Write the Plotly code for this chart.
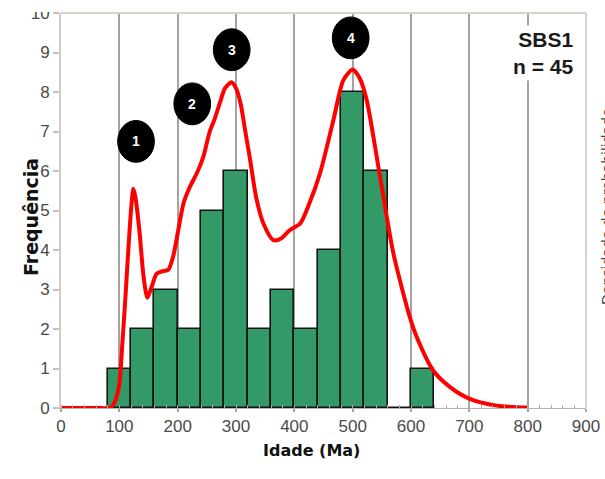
import plotly.graph_objects as go

# ---------------- data ----------------
bin_left = [80, 120, 160, 200, 240, 280, 320, 360, 400, 440, 480, 520, 560, 600]
bin_width = 40
counts = [1, 2, 3, 2, 5, 6, 2, 3, 2, 4, 8, 6, 0, 1]

curve_x = [0, 60, 85, 92, 100, 105, 110, 115, 120, 124, 128, 135, 141, 148, 155, 164,
           173, 184, 192, 201, 210, 221, 233, 244, 255, 263, 272, 281, 292, 300, 308,
           316, 324, 335, 347, 364, 378, 392, 410, 425, 444, 467, 484, 500, 512, 524,
           547, 570, 598, 610, 638, 667, 701, 747, 800]
curve_y = [0, 0, 0.01, 0.15, 0.6, 1.6, 2.7, 3.9, 5.0, 5.55, 5.3, 4.4, 3.4, 2.79, 3.05, 3.4,
           3.46, 3.5, 3.82, 4.5, 5.18, 5.6, 5.95, 6.36, 7.0, 7.3, 7.71, 8.09, 8.25, 8.1, 7.7,
           7.0, 6.3, 5.3, 4.67, 4.25, 4.3, 4.5, 4.67, 5.15, 5.94, 7.29, 8.3, 8.57, 8.35, 7.8,
           5.85, 3.9, 2.3, 1.79, 0.95, 0.53, 0.23, 0.06, 0.01]

peak_labels = ["1", "2", "3", "4"]
peak_x = [128.6, 225, 292.6, 496.6]
peak_y = [6.75, 7.7, 9.07, 9.37]

x_ticks = [0, 100, 200, 300, 400, 500, 600, 700, 800, 900]
y_ticks = list(range(0, 11))

sample_name = "SBS1"
n_text = "n = 45"

# ---------------- figure ----------------
W, H = 605, 479
L, R, T, B = 61, 19, 13, 71
PW, PH = W - L - R, H - T - B

bar_x = [b + bin_width / 2 for b in bin_left]

fig = go.Figure()
fig.add_trace(go.Bar(
    x=bar_x, y=counts, width=bin_width,
    marker=dict(color="#339966", line=dict(color="#141414", width=1.6)),
    showlegend=False, hoverinfo="skip",
))
fig.add_trace(go.Scatter(
    x=curve_x, y=curve_y, mode="lines",
    line=dict(color="#ff0000", width=4, shape="spline", smoothing=0.7),
    showlegend=False, hoverinfo="skip",
))

shapes = []
# top and right frame
shapes.append(dict(type="line", xref="paper", yref="paper", x0=0, x1=1, y0=1, y1=1,
                   line=dict(color="#d6d3cb", width=2), layer="above"))
shapes.append(dict(type="line", xref="paper", yref="paper", x0=1, x1=1, y0=0, y1=1,
                   line=dict(color="#d6d3cb", width=2), layer="above"))
# white strip hiding the top of the "10" label (cropped in original)
shapes.append(dict(type="rect", xref="paper", yref="paper", x0=-0.12, x1=-0.006,
                   y0=1 + 1 / PH, y1=1 + 20 / PH, fillcolor="white", line=dict(width=0), layer="above"))
# peak markers
rx, ry = 31.5, 0.53
for cx, cy in zip(peak_x, peak_y):
    shapes.append(dict(type="circle", xref="x", yref="y", x0=cx - rx, x1=cx + rx,
                       y0=cy - ry, y1=cy + ry, fillcolor="black",
                       line=dict(color="black", width=1), layer="above"))

annotations = []
for lab, cx, cy in zip(peak_labels, peak_x, peak_y):
    annotations.append(dict(x=cx, y=cy, xref="x", yref="y", text=f"<b>{lab}</b>",
                            showarrow=False, font=dict(family="Liberation Sans, Arial", size=14, color="white")))
annotations.append(dict(x=883, y=9.0, xref="x", yref="y", xanchor="right", yanchor="middle",
                        text=f"<b>{sample_name}</b><br><b>{n_text}</b>", align="right",
                        showarrow=False, bgcolor="white", borderpad=2,
                        font=dict(family="Liberation Sans, Arial", size=21, color="#1a1a1a")))
annotations.append(dict(x=(311 - L) / PW, y=(H - B - 462) / PH, xref="paper", yref="paper",
                        text="<b>Idade (Ma)</b>", showarrow=False,
                        font=dict(family="DejaVu Sans", size=16, color="#111")))
annotations.append(dict(x=(18 - L) / PW, y=(H - B - 217) / PH, xref="paper", yref="paper",
                        text="<b>Frequência</b>", textangle=-90, showarrow=False,
                        font=dict(family="DejaVu Sans", size=19, color="#111")))
annotations.append(dict(x=(617 - L) / PW, y=(H - B - 207) / PH, xref="paper", yref="paper",
                        text="Densidade de probabilidade", textangle=-90, showarrow=False,
                        font=dict(family="DejaVu Sans", size=14, color="#444")))

fig.update_layout(
    width=W, height=H,
    margin=dict(l=L, r=R, t=T, b=B, pad=0, autoexpand=False),
    paper_bgcolor="white", plot_bgcolor="white",
    bargap=0, shapes=shapes, annotations=annotations,
    xaxis=dict(range=[0, 900], tickvals=x_ticks, ticktext=[str(v) for v in x_ticks],
               showgrid=True, gridcolor="#a3a3a3", gridwidth=2, zeroline=False,
               showline=True, linecolor="#b4b4b4", linewidth=1,
               ticks="outside", ticklen=3, tickcolor="#a3a3a3", tickwidth=2,
               minor=dict(dtick=20, tick0=0, ticks="inside", ticklen=3, tickcolor="#aaaaaa",
                          tickwidth=1, showgrid=False),
               tickfont=dict(family="Liberation Sans, Arial", size=17, color="#4a4a4a")),
    yaxis=dict(range=[0, 10], tickvals=y_ticks, showgrid=False, zeroline=False,
               showline=True, linecolor="#d0cdc4", linewidth=2,
               ticks="outside", ticklen=6, tickcolor="#c4c1b8", tickwidth=2,
               tickfont=dict(family="Liberation Sans, Arial", size=17, color="#4a4a4a")),
)

fig.write_html("out.html")
